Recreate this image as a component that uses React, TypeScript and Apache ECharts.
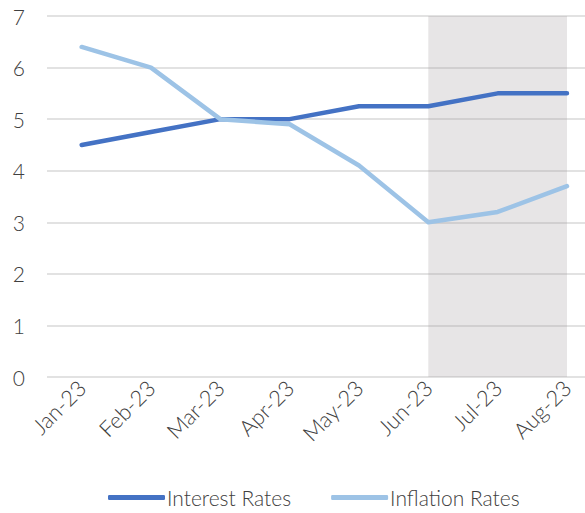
import React, { useEffect, useRef } from "react";
import * as echarts from "echarts";

const months = ["Jan-23", "Feb-23", "Mar-23", "Apr-23", "May-23", "Jun-23", "Jul-23", "Aug-23"];
const interestRates = [4.5, 4.75, 5.0, 5.0, 5.25, 5.25, 5.5, 5.5];
const inflationRates = [6.4, 6.0, 5.0, 4.9, 4.1, 3.0, 3.2, 3.7];
const shadedRange = ["Jun-23", "Aug-23"];

const FONT = "Lato, 'Open Sans', sans-serif";
const monthIndex = months.map((_, i) => i);

export default function App() {
  const ref = useRef<HTMLDivElement>(null);

  useEffect(() => {
    document.body.style.margin = "0";
    if (!ref.current) return;
    const chart = echarts.init(ref.current, undefined, { renderer: "svg" });
    const toPairs = (vals: number[]) => vals.map((v, i) => [i, v]);
    chart.setOption({
      animation: false,
      backgroundColor: "#ffffff",
      grid: { left: 47, top: 16, right: 0, height: 361, containLabel: false },
      legend: {
        bottom: 0,
        left: 103,
        itemWidth: 57,
        itemHeight: 5,
        itemGap: 40,
        icon: "roundRect",
        textStyle: {
          fontFamily: FONT,
          fontWeight: 300,
          fontSize: 21,
          color: "#404040",
          padding: [0, 0, 0, -3],
        },
        data: ["Interest Rates", "Inflation Rates"],
      },
      xAxis: {
        type: "value",
        // half a month of padding on the left; the right side runs past the edge
        min: -0.5,
        max: 7.26,
        axisLine: { show: false },
        axisTick: { show: false },
        splitLine: { show: false },
        axisLabel: {
          customValues: monthIndex,
          formatter: (v: number) => months[Math.round(v)] ?? "",
          rotate: 45,
          margin: 7,
          fontFamily: FONT,
          fontWeight: 300,
          fontSize: 22,
          color: "#404040",
        },
      },
      yAxis: {
        type: "value",
        min: 0,
        max: 7,
        interval: 1,
        axisLine: { show: false },
        axisTick: { show: false },
        axisLabel: {
          margin: 22,
          fontFamily: FONT,
          fontWeight: 300,
          fontSize: 21,
          color: "#404040",
        },
        splitLine: { lineStyle: { color: "#d9d9d9", width: 1.5 } },
      },
      series: [
        {
          name: "Interest Rates",
          type: "line",
          data: toPairs(interestRates),
          symbol: "none",
          z: 2,
          lineStyle: { color: "#4472c4", width: 4.5, cap: "round", join: "round" },
          itemStyle: { color: "#4472c4" },
        },
        {
          name: "Inflation Rates",
          type: "line",
          data: toPairs(inflationRates),
          symbol: "none",
          z: 2,
          lineStyle: { color: "#9dc3e6", width: 4.5, cap: "round", join: "round" },
          itemStyle: { color: "#9dc3e6" },
        },
        {
          name: "shade",
          type: "line",
          data: [],
          z: 10,
          silent: true,
          markArea: {
            silent: true,
            itemStyle: { color: "rgba(160,150,155,0.25)" },
            data: [
              [
                { xAxis: months.indexOf(shadedRange[0]), yAxis: 0 },
                { xAxis: months.indexOf(shadedRange[1]), yAxis: 7 },
              ],
            ],
          },
        },
      ],
    });
    return () => chart.dispose();
  }, []);

  return <div ref={ref} style={{ width: 585, height: 513 }} />;
}
